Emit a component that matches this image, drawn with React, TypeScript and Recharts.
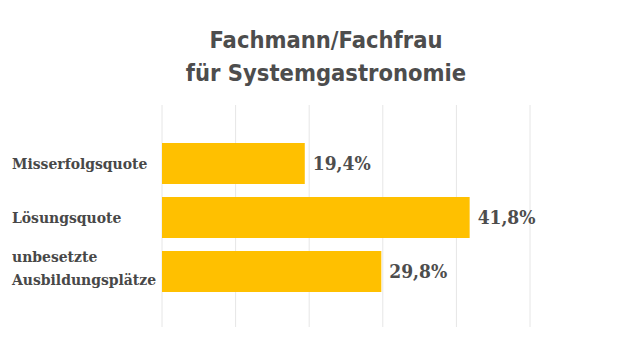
import React from "react";
import { BarChart, Bar, XAxis, YAxis, CartesianGrid, LabelList } from "recharts";

const titleLines = ["Fachmann/Fachfrau", "für Systemgastronomie"];
const categories = ["Misserfolgsquote", "Lösungsquote", "unbesetzte Ausbildungsplätze"];
const values = [19.4, 41.8, 29.8];
const xTicks = [0, 10, 20, 30, 40, 50];

const data = categories.map((name, i) => ({ name, value: values[i] }));

const fmt = (v: number) => v.toFixed(1).replace(".", ",") + "%";

const CategoryTick = (props: any) => {
  const { y, payload } = props;
  const label: string = payload.value;
  const lines = label.includes(" ") ? label.split(" ") : [label];
  const fontFamily = "'DejaVu Serif Condensed', 'DejaVu Serif', serif";
  if (lines.length === 1) {
    return (
      <text x={12} y={y + 5.5} textAnchor="start" fill="#484848" fontSize={15.5} fontWeight="bold" fontFamily={fontFamily}>
        {label}
      </text>
    );
  }
  return (
    <text x={12} y={y - 9} textAnchor="start" fill="#484848" fontSize={15.5} fontWeight="bold" fontFamily={fontFamily}>
      {lines.map((l, i) => (
        <tspan key={i} x={12} dy={i === 0 ? 0 : 23}>
          {l}
        </tspan>
      ))}
    </text>
  );
};

export default function App() {
  return (
    <div style={{ position: "absolute", left: 0, top: 0, width: 640, height: 360, background: "#fff" }}>
      <div
        style={{
          position: "absolute",
          left: 0,
          top: 24,
          width: 652,
          textAlign: "center",
          fontFamily: "'DejaVu Sans Condensed', 'DejaVu Sans', sans-serif",
          fontWeight: "bold",
          fontSize: 23.5,
          lineHeight: "33px",
          color: "#4d4d4d",
        }}
      >
        {titleLines.map((t) => (
          <div key={t}>{t}</div>
        ))}
      </div>
      <BarChart
        width={640}
        height={360}
        data={data}
        layout="vertical"
        margin={{ top: 105, right: 110, bottom: 33, left: 0 }}
      >
        <CartesianGrid horizontal={false} stroke="#e6e6e6" />
        <XAxis type="number" domain={[0, 50]} ticks={xTicks} hide />
        <YAxis
          type="category"
          dataKey="name"
          width={162}
          axisLine={false}
          tickLine={false}
          tick={<CategoryTick />}
          padding={{ top: 31, bottom: 29 }}
        />
        <Bar dataKey="value" fill="#ffc000" barSize={41} isAnimationActive={false}>
          <LabelList
            dataKey="value"
            position="right"
            offset={8}
            formatter={(v: any) => fmt(Number(v))}
            fill="#4d4d4d"
            fontSize={19}
            fontWeight="bold"
            fontFamily="'DejaVu Serif Condensed', 'DejaVu Serif', serif"
          />
        </Bar>
      </BarChart>
    </div>
  );
}
